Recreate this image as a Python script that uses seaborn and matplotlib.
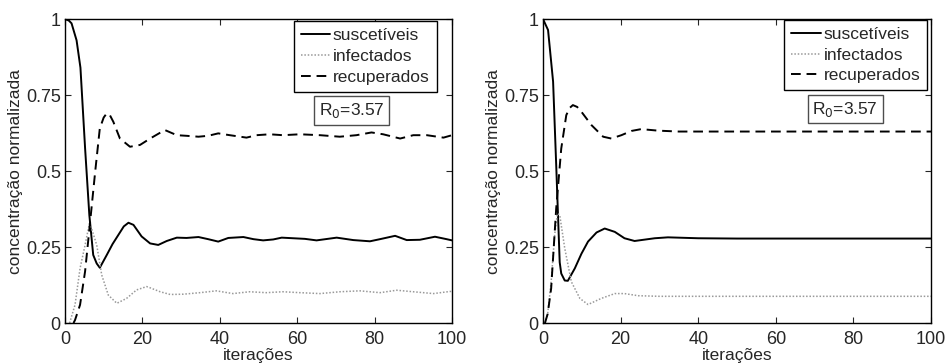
import matplotlib
matplotlib.use("Agg")
import matplotlib.pyplot as plt
import seaborn as sns
import pandas as pd

# ---------------- data ----------------
series_names = ["suscetíveis", "infectados", "recuperados"]
r0_label = "R$_0$=3.57"
x_ticks = [0, 20, 40, 60, 80, 100]
y_ticks = [0, 0.25, 0.5, 0.75, 1]
y_tick_labels = ["0", "0.25", "0.5", "0.75", "1"]

left_s_x = [0, 1, 1.7, 3, 4, 5.2, 6.3, 7.3, 8.2, 9, 10.8, 12.3, 13.8, 15.2, 16.4, 17.7, 19.8, 22,
            24.1, 26.3, 28.9, 31.4, 34.5, 37, 39.6, 42.2, 46.1, 48.7, 51.2, 53.8, 56, 59, 62, 65,
            70.2, 74.5, 78.8, 81.4, 85.3, 88.3, 91.7, 95.6, 98.6, 100]
left_s_y = [1.0, 0.995, 0.986, 0.93, 0.84, 0.575, 0.355, 0.224, 0.196, 0.182, 0.224, 0.26, 0.29,
            0.318, 0.33, 0.323, 0.285, 0.262, 0.257, 0.27, 0.281, 0.280, 0.283, 0.276, 0.268,
            0.28, 0.283, 0.276, 0.272, 0.275, 0.281, 0.279, 0.277, 0.272, 0.281, 0.273, 0.269,
            0.276, 0.287, 0.273, 0.274, 0.284, 0.276, 0.272]

left_i_x = [1.2, 2.6, 3.9, 5.2, 6.3, 6.9, 8.2, 9.5, 11.2, 13.4, 15.9, 18.5, 21.1, 22, 24.6, 27.2,
            30.6, 34.9, 39.1, 43.4, 47.7, 52, 56.3, 60.7, 65.9, 71, 76.2, 81.4, 85.7, 90, 95.2,
            99.5, 100]
left_i_y = [0.0, 0.06, 0.18, 0.257, 0.327, 0.31, 0.257, 0.158, 0.092, 0.065, 0.081, 0.109, 0.12,
            0.116, 0.103, 0.094, 0.095, 0.1, 0.106, 0.097, 0.103, 0.1, 0.103, 0.1, 0.097, 0.103,
            0.106, 0.1, 0.108, 0.103, 0.097, 0.104, 0.104]

left_r_x = [2.2, 2.6, 3.9, 5.2, 6.5, 7.8, 9, 10, 10.8, 11.6, 12.5, 14.2, 16.8, 19.4, 22, 25.8,
            28.9, 31.4, 34.5, 37, 39.6, 42.6, 46.9, 49.5, 52.9, 56.3, 60.7, 65.9, 71, 75.3, 79.2,
            82.2, 86.6, 90, 93.5, 97.8, 100]
left_r_y = [0.0, 0.01, 0.06, 0.17, 0.333, 0.497, 0.64, 0.676, 0.69, 0.684, 0.662, 0.607, 0.58,
            0.586, 0.607, 0.635, 0.618, 0.616, 0.613, 0.616, 0.624, 0.618, 0.61, 0.618, 0.621,
            0.618, 0.621, 0.618, 0.613, 0.618, 0.627, 0.621, 0.607, 0.618, 0.618, 0.61, 0.618]

right_s_x = [0, 1.3, 2.6, 3.4, 4.3, 4.7, 5.6, 6.4, 8.2, 9.9, 11.6, 13.8, 15.9, 18.5, 21, 23.6,
             28.8, 32.2, 40, 50, 60, 70, 80, 90, 100]
right_s_y = [1.0, 0.964, 0.794, 0.52, 0.2, 0.163, 0.14, 0.139, 0.18, 0.228, 0.268, 0.298, 0.311,
             0.3, 0.279, 0.27, 0.279, 0.282, 0.279, 0.278, 0.278, 0.278, 0.278, 0.278, 0.278]

right_i_x = [0.5, 1.2, 2.1, 3, 3.7, 4.3, 5.6, 7.3, 9.5, 11.6, 15, 18.5, 21, 24.5, 30, 40, 60, 80, 100]
right_i_y = [0.0, 0.03, 0.136, 0.29, 0.36, 0.356, 0.246, 0.136, 0.081, 0.061, 0.081, 0.097,
             0.097, 0.09, 0.088, 0.088, 0.088, 0.088, 0.088]

right_r_x = [0.5, 1.2, 2.1, 3.4, 4.7, 6, 6.9, 7.7, 8.8, 9.9, 12.5, 15.5, 17.6, 20.2, 22.8, 25.3,
             29.6, 35, 50, 75, 100]
right_r_y = [0.0, 0.03, 0.114, 0.377, 0.574, 0.684, 0.708, 0.717, 0.711, 0.695, 0.651, 0.613,
             0.607, 0.618, 0.632, 0.638, 0.633, 0.63, 0.63, 0.63, 0.63]

# ---------------- style ----------------
sns.set_style("ticks")
plt.rcParams["font.family"] = ["Liberation Sans", "DejaVu Sans"]
plt.rcParams["font.size"] = 12.5
plt.rcParams["axes.linewidth"] = 1.0

FS = 12.5
styles = {
    "suscetíveis": dict(color="black", linestyle="-", linewidth=1.4),
    "infectados": dict(color="0.6", linestyle=(0, (1, 1.2)), linewidth=1.1),
    "recuperados": dict(color="black", linestyle=(0, (5, 3)), linewidth=1.4),
}

fig = plt.figure(figsize=(9.47, 3.63), dpi=100)
ax_l = fig.add_axes([0.0686, 0.110, 0.4087, 0.8375])
ax_r = fig.add_axes([0.5734, 0.110, 0.4097, 0.8375])

panels = [
    (ax_l, [(left_s_x, left_s_y), (left_i_x, left_i_y), (left_r_x, left_r_y)],
     (0.96, 0.993), (0.741, 0.700)),
    (ax_r, [(right_s_x, right_s_y), (right_i_x, right_i_y), (right_r_x, right_r_y)],
     (0.99, 0.997), (0.779, 0.704)),
]

for ax, data, leg_anchor, r0_pos in panels:
    for name, (xs, ys) in zip(series_names, data):
        df = pd.DataFrame({"x": xs, "y": ys})
        st = styles[name]
        sns.lineplot(data=df, x="x", y="y", ax=ax, label=name, color=st["color"],
                     linewidth=st["linewidth"], estimator=None, sort=False)
        ax.lines[-1].set_linestyle(st["linestyle"])
    ax.set_xlim(0, 100)
    ax.set_ylim(0, 1)
    ax.set_xticks(x_ticks)
    ax.set_yticks(y_ticks)
    ax.set_yticklabels(y_tick_labels)
    ax.tick_params(direction="in", top=True, right=True, length=4, width=0.8,
                   labelsize=13)
    ax.tick_params(axis="x", pad=6)
    ax.tick_params(axis="y", pad=3)
    ax.set_xlabel("iterações", fontsize=FS, labelpad=0)
    ax.set_ylabel("concentração normalizada", fontsize=FS, labelpad=2)
    for sp in ax.spines.values():
        sp.set_visible(True)
        sp.set_color("black")
    leg = ax.legend(loc="upper right", bbox_to_anchor=leg_anchor, frameon=True,
                    fancybox=False, framealpha=1, edgecolor="black", fontsize=FS,
                    handlelength=1.7, handletextpad=0.15, borderpad=0.4,
                    labelspacing=0.32, borderaxespad=0.0)
    leg.get_frame().set_linewidth(1.0)
    ax.text(r0_pos[0], r0_pos[1], r0_label, transform=ax.transAxes, ha="center",
            va="center", fontsize=FS,
            bbox=dict(boxstyle="square,pad=0.28", facecolor="white", edgecolor="0.3",
                      linewidth=1.0))

fig.savefig("out.png", dpi=100)
